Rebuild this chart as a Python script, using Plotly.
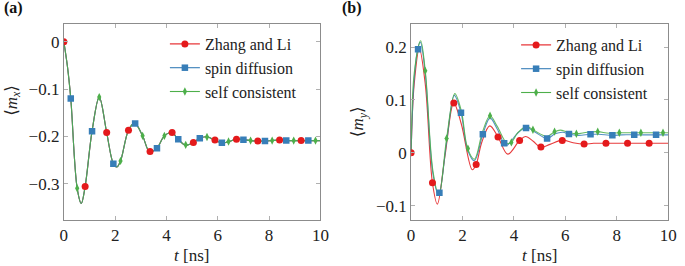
import plotly.graph_objects as go

# ---------------- data: panel (a) <m_x> ----------------
mx_line_t = [0, 0.14, 0.27, 0.52, 0.68, 0.83, 1.10, 1.38, 1.67, 1.93, 2.06, 2.21, 2.52, 2.76,
             3.07, 3.35, 3.63, 3.92, 4.2, 4.46, 4.75, 5.05, 5.30, 5.57, 5.88, 6.18, 6.44,
             6.72, 7.0, 7.28, 7.56, 7.84, 8.12, 8.4, 8.68, 8.96, 9.24, 9.52, 9.8, 10]
mx_line = [0, -0.052, -0.12, -0.31, -0.342, -0.306, -0.189, -0.117, -0.192, -0.258, -0.265,
           -0.252, -0.187, -0.172, -0.199, -0.233, -0.225, -0.199, -0.192, -0.206, -0.219,
           -0.213, -0.204, -0.201, -0.208, -0.214, -0.211, -0.206, -0.207, -0.209, -0.21,
           -0.21, -0.209, -0.208, -0.209, -0.209, -0.209, -0.209, -0.209, -0.209]

mx_zl_mt = [0, 0.83, 1.67, 2.52, 3.36, 4.22, 5.05, 5.89, 6.73, 7.56, 8.41, 9.25]
mx_zl_mv = [0, -0.306, -0.192, -0.187, -0.232, -0.192, -0.213, -0.208, -0.206, -0.21, -0.208, -0.209]
mx_sd_mt = [0.27, 1.10, 1.93, 2.78, 3.63, 4.46, 5.30, 6.16, 7.0, 7.84, 8.67, 9.53]
mx_sd_mv = [-0.12, -0.189, -0.258, -0.173, -0.225, -0.206, -0.204, -0.2135, -0.207, -0.21, -0.209, -0.209]
mx_sc_mt = [0.52, 1.38, 2.21, 3.07, 3.92, 4.75, 5.58, 6.42, 7.28, 8.12, 8.96, 9.81]
mx_sc_mv = [-0.31, -0.117, -0.252, -0.199, -0.199, -0.218, -0.2015, -0.211, -0.209, -0.209, -0.209, -0.209]

# ---------------- data: panel (b) <m_y> ----------------
my_zl_t = [0, 0.12, 0.32, 0.55, 0.83, 1.02, 1.32, 1.66, 1.95, 2.38, 2.53, 2.75, 3.06, 3.38,
           3.76, 4.22, 4.45, 4.75, 5.04, 5.4, 5.88, 6.3, 6.74, 7.1, 7.58, 8.42, 9.25, 10]
my_zl = [0, 0.13, 0.197, 0.13, -0.057, -0.097, -0.005, 0.094, 0.055, -0.032, -0.022, 0.02,
         0.051, 0.030, -0.0025, 0.0235, 0.031, 0.022, 0.0105, 0.016, 0.024, 0.019, 0.0165,
         0.018, 0.018, 0.018, 0.018, 0.018]
my_sd_t = [0, 0.12, 0.27, 0.36, 0.55, 0.85, 1.07, 1.38, 1.68, 1.94, 2.2, 2.46, 2.79, 3.07,
           3.35, 3.7, 4.1, 4.47, 4.8, 5.29, 5.6, 5.9, 6.14, 6.5, 6.98, 7.3, 7.83, 8.2, 8.68,
           9.1, 9.53, 10]
my_sd = [0, 0.14, 0.2, 0.209, 0.15, -0.04, -0.08, 0.02, 0.1086, 0.076, 0.005, -0.015, 0.035,
         0.066, 0.045, 0.014, 0.035, 0.048, 0.04, 0.027, 0.036, 0.039, 0.0355, 0.033, 0.035,
         0.035, 0.033, 0.034, 0.034, 0.034, 0.034, 0.034]
my_sc_t = [0, 0.12, 0.37, 0.55, 0.85, 1.08, 1.38, 1.70, 1.95, 2.2, 2.46, 2.78, 3.07, 3.35,
           3.73, 3.9, 4.15, 4.5, 4.74, 5.29, 5.58, 5.8, 6.1, 6.43, 6.85, 7.26, 7.7, 8.1, 8.5,
           8.94, 9.4, 9.8, 10]
my_sc = [0, 0.15, 0.212, 0.155, -0.035, -0.08, 0.027, 0.112, 0.08, 0.008, -0.012, 0.04, 0.07,
         0.05, 0.018, 0.0197, 0.038, 0.05, 0.0437, 0.031, 0.040, 0.043, 0.039, 0.036, 0.039,
         0.040, 0.037, 0.038, 0.038, 0.038, 0.038, 0.038, 0.038]

my_zl_mt = [0, 0.83, 1.66, 2.53, 3.38, 4.22, 5.05, 5.88, 6.73, 7.58, 8.42, 9.26]
my_zl_mv = [0, -0.0565, 0.094, -0.022, 0.030, 0.0235, 0.011, 0.0235, 0.0165, 0.018, 0.018, 0.018]
my_sd_mt = [0.27, 1.10, 1.94, 2.79, 3.62, 4.47, 5.29, 6.14, 6.98, 7.83, 8.68, 9.53]
my_sd_mv = [0.196, -0.0755, 0.076, 0.035, 0.018, 0.047, 0.027, 0.0355, 0.035, 0.033, 0.034, 0.034]
my_sc_mt = [0.55, 1.38, 2.21, 3.07, 3.9, 4.74, 5.58, 6.43, 7.26, 8.1, 8.94, 9.8]
my_sc_mv = [0.155, 0.027, 0.008, 0.070, 0.0197, 0.0437, 0.040, 0.036, 0.040, 0.038, 0.038, 0.038]

names = ["Zhang and Li", "spin diffusion", "self consistent"]
x_ticks = [0, 2, 4, 6, 8, 10]
mx_ticks = [0, -0.1, -0.2, -0.3]
my_ticks = [-0.1, 0, 0.1, 0.2]

# ---------------- style ----------------
RED, BLUE, GREEN = "#e41a1c", "#377eb8", "#4daf4a"
colors = [RED, BLUE, GREEN]
symbols = ["circle", "square", "diamond-tall"]
msizes = [7, 6.5, 6]
FONT = "Liberation Serif, DejaVu Serif, serif"
FS = 17
FS_LEG = 16
W, H = 685, 266

fig = go.Figure()

panels = [
    ("x", "y", "legend",
     [(mx_line_t, mx_line), (mx_line_t, mx_line), (mx_line_t, mx_line)],
     [(mx_zl_mt, mx_zl_mv), (mx_sd_mt, mx_sd_mv), (mx_sc_mt, mx_sc_mv)]),
    ("x2", "y2", "legend2",
     [(my_zl_t, my_zl), (my_sd_t, my_sd), (my_sc_t, my_sc)],
     [(my_zl_mt, my_zl_mv), (my_sd_mt, my_sd_mv), (my_sc_mt, my_sc_mv)]),
]

for xa, ya, lg, lines, marks in panels:
    for i in range(3):
        lt, lv = lines[i]
        fig.add_trace(go.Scatter(x=lt, y=lv, mode="lines", line=dict(color=colors[i], width=1.1, shape="spline"),
                                 opacity=0.85, showlegend=False, hoverinfo="skip", xaxis=xa, yaxis=ya))
    for i in range(3):
        mt, mv = marks[i]
        fig.add_trace(go.Scatter(x=mt, y=mv, mode="markers",
                                 marker=dict(color=colors[i], symbol=symbols[i], size=msizes[i], line=dict(width=0)),
                                 showlegend=False, xaxis=xa, yaxis=ya))
    for i in range(3):
        fig.add_trace(go.Scatter(x=[None], y=[None], mode="lines+markers", name=names[i],
                                 line=dict(color=colors[i], width=1.1),
                                 marker=dict(color=colors[i], symbol=symbols[i], size=msizes[i]),
                                 legend=lg, xaxis=xa, yaxis=ya))

def px_x(p):
    return p / W

def px_y(p):
    return 1 - p / H

axis_common = dict(showline=True, linecolor="#8c8c8c", linewidth=1, mirror="ticks",
                   ticks="inside", ticklen=4, tickcolor="#b0b0b0", showgrid=False, zeroline=False,
                   tickfont=dict(family=FONT, size=FS, color="#222"))

ydom = [px_y(220), px_y(24.3)]
fig.update_layout(
    width=W, height=H, margin=dict(l=0, r=0, t=0, b=0),
    paper_bgcolor="white", plot_bgcolor="white",
    font=dict(family=FONT, size=FS, color="#222"),
    xaxis=dict(domain=[px_x(61), px_x(322.5)], range=[0, 10], tickvals=x_ticks, anchor="y", **axis_common),
    yaxis=dict(domain=ydom, range=[-0.377, 0.037], tickvals=mx_ticks, anchor="x", **axis_common),
    xaxis2=dict(domain=[px_x(415), px_x(677)], range=[0, 10], tickvals=x_ticks, anchor="y2", **axis_common),
    yaxis2=dict(domain=ydom, range=[-0.127, 0.243], tickvals=my_ticks, anchor="x2", **axis_common),
    legend=dict(x=px_x(164), y=px_y(27), xanchor="left", yanchor="top", bgcolor="rgba(0,0,0,0)",
                font=dict(family=FONT, size=FS_LEG, color="#222"), itemwidth=30, tracegroupgap=0),
    legend2=dict(x=px_x(522), y=px_y(28), xanchor="left", yanchor="top", bgcolor="rgba(0,0,0,0)",
                 font=dict(family=FONT, size=FS_LEG, color="#222"), itemwidth=30, tracegroupgap=0),
    annotations=[
        dict(text="<b>(a)</b>", x=px_x(-2), y=px_y(-3), xref="paper", yref="paper", xanchor="left",
             yanchor="top", showarrow=False, font=dict(family=FONT, size=16, color="#111")),
        dict(text="<b>(b)</b>", x=px_x(342), y=px_y(-3), xref="paper", yref="paper", xanchor="left",
             yanchor="top", showarrow=False, font=dict(family=FONT, size=16, color="#111")),
        dict(text="<i>t</i> [ns]", x=px_x(191.5), y=px_y(255), xref="paper", yref="paper",
             xanchor="center", yanchor="middle", showarrow=False, font=dict(family=FONT, size=FS)),
        dict(text="<i>t</i> [ns]", x=px_x(546), y=px_y(255), xref="paper", yref="paper",
             xanchor="center", yanchor="middle", showarrow=False, font=dict(family=FONT, size=FS)),
        dict(text="⟨<i>m</i><sub><i>x</i></sub>⟩", x=px_x(9), y=px_y(100), xref="paper", yref="paper",
             xanchor="center", yanchor="middle", textangle=-90, showarrow=False, font=dict(family=FONT, size=FS)),
        dict(text="⟨<i>m</i><sub><i>y</i></sub>⟩", x=px_x(362), y=px_y(122), xref="paper", yref="paper",
             xanchor="center", yanchor="middle", textangle=-90, showarrow=False, font=dict(family=FONT, size=FS)),
    ],
)

fig.write_html("out.html", config={"displayModeBar": False},
               post_script="document.body.style.margin='0px';document.body.style.overflow='hidden';")
